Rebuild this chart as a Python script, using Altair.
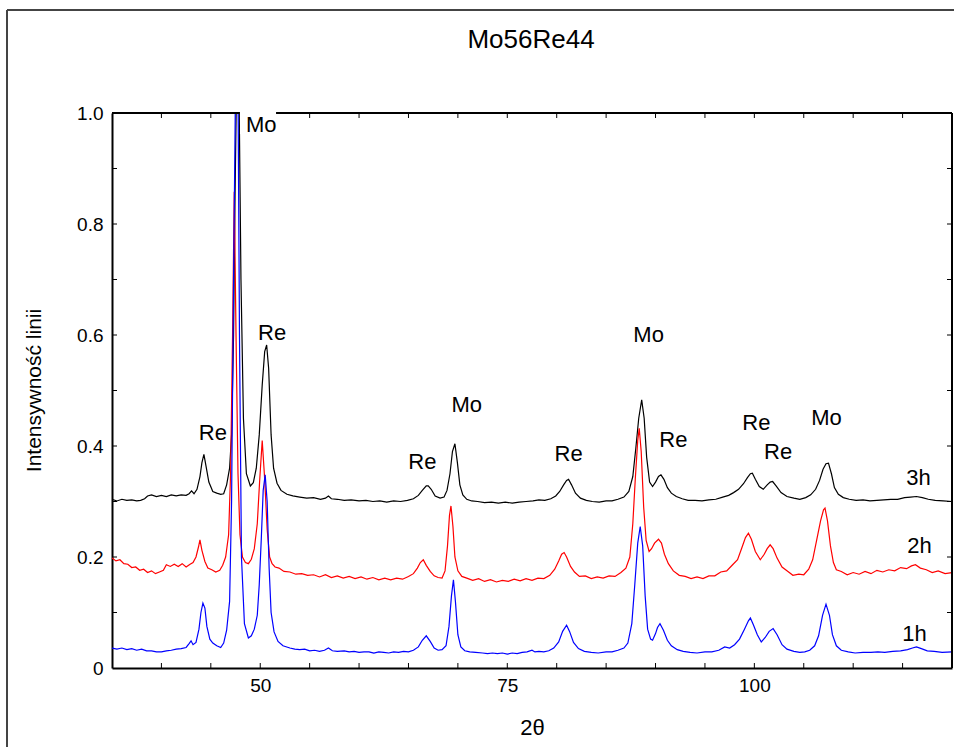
import altair as alt
import pandas as pd

# ---------------- data ----------------
x_1h = [35.0, 35.5, 36.0, 36.5, 37.0, 37.5, 38.0, 38.5, 39.0, 39.5, 40.0, 40.5, 41.0, 41.5, 42.0, 42.5,
        42.8, 43.0, 43.2, 43.5, 43.8, 44.0, 44.2, 44.4, 44.6, 44.9, 45.2, 45.6, 46.0, 46.3, 46.6, 46.9,
        47.1, 47.3, 47.5, 47.6, 47.75, 47.9, 48.1, 48.4, 48.8, 49.1, 49.4, 49.7, 49.9, 50.1, 50.3, 50.5,
        50.7, 50.9, 51.1, 51.4, 51.8, 52.3, 53.0, 53.5, 54.0, 54.5, 55.0, 55.5, 56.0, 56.5, 56.9, 57.3,
        57.8, 58.5, 59.0, 59.5, 60.0, 60.5, 61.0, 61.5, 62.0, 62.5, 63.0, 63.5, 64.0, 64.5, 65.0, 65.5,
        66.0, 66.4, 66.8, 67.2, 67.6, 68.0, 68.4, 68.8, 69.1, 69.35, 69.55, 69.75, 70.0, 70.3, 70.7, 71.2,
        71.8, 72.5, 73.0, 73.5, 74.0, 74.5, 75.0, 75.5, 76.0, 76.5, 77.0, 77.5, 77.8, 78.2, 78.7, 79.2,
        79.7, 80.2, 80.6, 81.0, 81.3, 81.7, 82.2, 82.8, 83.5, 84.2, 85.0, 85.6, 86.2, 86.8, 87.2, 87.6,
        87.9, 88.2, 88.45, 88.7, 88.95, 89.2, 89.5, 89.7, 90.0, 90.2, 90.45, 90.8, 91.2, 91.6, 92.2, 92.8,
        93.5, 94.2, 95.0, 95.7, 96.4, 97.0, 97.5, 98.0, 98.5, 99.0, 99.4, 99.6, 99.9, 100.3, 100.7, 101.1,
        101.5, 101.9, 102.3, 102.8, 103.3, 104.0, 104.6, 105.1, 105.6, 106.1, 106.5, 106.9, 107.25, 107.6,
        107.9, 108.3, 108.8, 109.5, 110.2, 111.0, 111.8, 112.5, 113.2, 114.0, 114.8, 115.5, 116.0, 116.4,
        116.9, 117.5, 118.2, 119.0, 120.0]
y_1h = [0.036, 0.034, 0.036, 0.033, 0.035, 0.032, 0.034, 0.031, 0.031, 0.029, 0.029, 0.031, 0.032, 0.034, 0.035, 0.037,
        0.044, 0.049, 0.042, 0.046, 0.070, 0.100, 0.117, 0.108, 0.075, 0.052, 0.045, 0.040, 0.037, 0.045, 0.068, 0.120,
        0.300, 0.700, 1.050, 1.100, 1.050, 0.600, 0.200, 0.080, 0.054, 0.058, 0.070, 0.095, 0.150, 0.230, 0.320, 0.348,
        0.300, 0.180, 0.100, 0.065, 0.048, 0.040, 0.036, 0.034, 0.033, 0.034, 0.031, 0.032, 0.030, 0.032, 0.036, 0.031,
        0.030, 0.031, 0.029, 0.030, 0.028, 0.029, 0.029, 0.027, 0.029, 0.028, 0.027, 0.029, 0.028, 0.030, 0.029, 0.032,
        0.038, 0.050, 0.058, 0.048, 0.036, 0.032, 0.033, 0.040, 0.075, 0.130, 0.159, 0.120, 0.060, 0.038, 0.031, 0.029,
        0.028, 0.027, 0.026, 0.027, 0.026, 0.027, 0.025, 0.027, 0.026, 0.028, 0.029, 0.032, 0.029, 0.030, 0.029, 0.031,
        0.036, 0.047, 0.066, 0.077, 0.066, 0.046, 0.035, 0.030, 0.028, 0.027, 0.029, 0.029, 0.032, 0.036, 0.045, 0.080,
        0.150, 0.225, 0.255, 0.220, 0.130, 0.070, 0.052, 0.050, 0.062, 0.073, 0.080, 0.068, 0.050, 0.040, 0.033, 0.030,
        0.028, 0.027, 0.029, 0.029, 0.032, 0.038, 0.036, 0.042, 0.052, 0.070, 0.085, 0.090, 0.078, 0.060, 0.047, 0.055,
        0.066, 0.071, 0.060, 0.042, 0.034, 0.030, 0.028, 0.029, 0.032, 0.040, 0.058, 0.095, 0.115, 0.095,
        0.060, 0.040, 0.032, 0.029, 0.027, 0.028, 0.028, 0.029, 0.028, 0.030, 0.031, 0.033, 0.036, 0.038,
        0.035, 0.031, 0.030, 0.028, 0.029]

x_2h = [35.0, 35.4, 35.8, 36.2, 36.6, 37.0, 37.4, 37.8, 38.2, 38.6, 39.0, 39.4, 39.8, 40.2, 40.5, 40.9,
        41.3, 41.7, 42.1, 42.5, 42.9, 43.2, 43.5, 43.75, 43.9, 44.1, 44.4, 44.7, 45.1, 45.5, 45.9, 46.2,
        46.5, 46.8, 47.0, 47.2, 47.37, 47.55, 47.75, 47.95, 48.2, 48.5, 48.8, 49.1, 49.4, 49.7, 49.95, 50.2,
        50.45, 50.7, 50.95, 51.2, 51.5, 51.9, 52.4, 53.0, 53.6, 54.2, 54.8, 55.4, 56.0, 56.6, 57.2, 57.8,
        58.4, 59.0, 59.6, 60.2, 60.8, 61.4, 62.0, 62.6, 63.2, 63.8, 64.4, 65.0, 65.5, 65.9, 66.2, 66.5,
        66.8, 67.2, 67.6, 68.0, 68.4, 68.7, 68.95, 69.15, 69.3, 69.5, 69.7, 70.0, 70.4, 70.9, 71.5, 72.1,
        72.7, 73.3, 73.9, 74.5, 75.1, 75.7, 76.3, 76.9, 77.5, 78.1, 78.7, 79.3, 79.8, 80.2, 80.5, 80.75,
        81.0, 81.4, 81.8, 82.3, 82.9, 83.5, 84.1, 84.7, 85.3, 85.9, 86.5, 87.0, 87.4, 87.7, 87.95, 88.2,
        88.35, 88.55, 88.8, 89.05, 89.35, 89.6, 89.9, 90.3, 90.6, 90.9, 91.3, 91.8, 92.4, 93.0, 93.6, 94.2,
        94.8, 95.4, 96.0, 96.6, 97.2, 97.8, 98.3, 98.7, 99.1, 99.4, 99.7, 100.1, 100.6, 101.0, 101.3, 101.6,
        101.9, 102.3, 102.8, 103.4, 103.9, 104.5, 105.0, 105.5, 105.9, 106.3, 106.7, 107.0, 107.15, 107.4,
        107.7, 108.0, 108.3, 108.8, 109.4, 110.0, 110.6, 111.2, 111.8, 112.4, 113.0, 113.6, 114.2, 114.8,
        115.4, 115.9, 116.3, 116.8, 117.4, 118.0, 118.6, 119.3, 120.0]
y_2h = [0.198, 0.193, 0.195, 0.188, 0.187, 0.181, 0.182, 0.176, 0.178, 0.172, 0.175, 0.170, 0.173, 0.176, 0.186, 0.183,
        0.187, 0.183, 0.188, 0.182, 0.187, 0.190, 0.200, 0.218, 0.231, 0.212, 0.192, 0.180, 0.177, 0.173, 0.176, 0.185,
        0.200, 0.240, 0.350, 0.600, 0.858, 0.600, 0.350, 0.240, 0.200, 0.190, 0.188, 0.196, 0.215, 0.260, 0.340, 0.410,
        0.340, 0.250, 0.200, 0.188, 0.182, 0.180, 0.174, 0.173, 0.169, 0.170, 0.167, 0.168, 0.164, 0.168, 0.163, 0.166,
        0.162, 0.165, 0.161, 0.164, 0.160, 0.163, 0.159, 0.162, 0.159, 0.162, 0.160, 0.165, 0.170, 0.180, 0.190, 0.195,
        0.185, 0.174, 0.166, 0.163, 0.162, 0.175, 0.220, 0.275, 0.292, 0.255, 0.200, 0.175, 0.165, 0.162, 0.158, 0.161,
        0.156, 0.159, 0.155, 0.158, 0.156, 0.160, 0.157, 0.161, 0.158, 0.162, 0.161, 0.167, 0.178, 0.193, 0.205, 0.208,
        0.200, 0.183, 0.173, 0.165, 0.166, 0.161, 0.164, 0.162, 0.166, 0.165, 0.172, 0.180, 0.200, 0.260, 0.340, 0.410,
        0.432, 0.390, 0.290, 0.230, 0.210, 0.215, 0.225, 0.232, 0.225, 0.205, 0.188, 0.175, 0.167, 0.165, 0.161, 0.164,
        0.161, 0.166, 0.166, 0.173, 0.175, 0.186, 0.195, 0.215, 0.235, 0.243, 0.232, 0.210, 0.195, 0.205, 0.215, 0.222,
        0.215, 0.198, 0.182, 0.174, 0.167, 0.169, 0.168, 0.178, 0.195, 0.230, 0.265, 0.285, 0.288, 0.265,
        0.220, 0.190, 0.177, 0.174, 0.168, 0.172, 0.169, 0.174, 0.170, 0.176, 0.173, 0.177, 0.175, 0.181,
        0.179, 0.184, 0.186, 0.180, 0.177, 0.172, 0.175, 0.170, 0.172]

x_3h = [35.0, 35.5, 36.0, 36.5, 37.0, 37.5, 37.9, 38.3, 38.6, 39.0, 39.5, 40.0, 40.5, 41.0, 41.5, 42.0,
        42.5, 42.8, 43.05, 43.3, 43.6, 43.9, 44.1, 44.3, 44.5, 44.8, 45.2, 45.6, 46.0, 46.3, 46.6, 46.9,
        47.1, 47.3, 47.45, 47.6, 47.72, 47.85, 48.05, 48.3, 48.6, 49.0, 49.3, 49.6, 49.9, 50.2, 50.45, 50.65,
        50.85, 51.1, 51.35, 51.7, 52.1, 52.7, 53.3, 54.0, 54.7, 55.4, 56.1, 56.6, 56.9, 57.2, 57.8, 58.5,
        59.2, 60.0, 60.7, 61.4, 62.1, 62.8, 63.5, 64.2, 64.9, 65.5, 66.0, 66.4, 66.8, 67.0, 67.3, 67.7,
        68.2, 68.6, 68.9, 69.2, 69.45, 69.7, 69.95, 70.2, 70.5, 70.9, 71.4, 72.0, 72.7, 73.4, 74.1, 74.8,
        75.5, 76.2, 76.9, 77.6, 78.2, 78.8, 79.4, 79.9, 80.3, 80.7, 81.0, 81.2, 81.5, 81.9, 82.4, 83.0,
        83.6, 84.3, 85.0, 85.6, 86.2, 86.8, 87.3, 87.7, 88.0, 88.3, 88.6, 88.85, 89.1, 89.4, 89.7, 90.0,
        90.3, 90.55, 90.85, 91.2, 91.6, 92.1, 92.7, 93.3, 94.0, 94.7, 95.4, 96.1, 96.8, 97.4, 97.9, 98.4,
        98.9, 99.3, 99.6, 99.8, 100.1, 100.5, 100.9, 101.3, 101.6, 101.85, 102.2, 102.7, 103.3, 104.0, 104.6, 105.2,
        105.7, 106.2, 106.6, 106.95, 107.25, 107.5, 107.8, 108.1, 108.5, 109.0, 109.6, 110.3, 111.0, 111.7,
        112.4, 113.1, 113.8, 114.5, 115.2, 115.8, 116.4, 117.0, 117.6, 118.3, 119.1, 120.0]
y_3h = [0.304, 0.301, 0.304, 0.302, 0.303, 0.301, 0.302, 0.305, 0.310, 0.312, 0.309, 0.311, 0.309, 0.312, 0.310, 0.312,
        0.311, 0.314, 0.319, 0.314, 0.322, 0.345, 0.370, 0.385, 0.365, 0.335, 0.318, 0.315, 0.313, 0.314, 0.330, 0.360,
        0.420, 0.600, 0.850, 1.050, 1.100, 1.050, 0.700, 0.450, 0.350, 0.328, 0.334, 0.360, 0.420, 0.510, 0.570, 0.582,
        0.540, 0.420, 0.360, 0.333, 0.320, 0.313, 0.310, 0.308, 0.306, 0.307, 0.304, 0.306, 0.310, 0.305, 0.304, 0.302,
        0.303, 0.301, 0.302, 0.300, 0.301, 0.299, 0.301, 0.300, 0.302, 0.305, 0.311, 0.320, 0.328, 0.328, 0.322, 0.310,
        0.306, 0.308, 0.320, 0.350, 0.390, 0.404, 0.370, 0.330, 0.312, 0.304, 0.301, 0.300, 0.298, 0.299, 0.297, 0.299,
        0.297, 0.299, 0.300, 0.301, 0.303, 0.302, 0.305, 0.310, 0.318, 0.330, 0.338, 0.340, 0.330, 0.315, 0.306, 0.302,
        0.300, 0.299, 0.301, 0.301, 0.304, 0.308, 0.318, 0.345, 0.395, 0.450, 0.483, 0.450, 0.380, 0.335, 0.327, 0.335,
        0.345, 0.348, 0.340, 0.325, 0.315, 0.309, 0.305, 0.302, 0.302, 0.301, 0.303, 0.304, 0.308, 0.311, 0.316, 0.322,
        0.332, 0.343, 0.350, 0.351, 0.340, 0.327, 0.322, 0.330, 0.335, 0.336, 0.328, 0.316, 0.309, 0.306, 0.304, 0.307,
        0.312, 0.322, 0.338, 0.358, 0.368, 0.369, 0.350, 0.325, 0.313, 0.307, 0.304, 0.302, 0.303, 0.301,
        0.302, 0.303, 0.304, 0.304, 0.307, 0.308, 0.309, 0.307, 0.304, 0.302, 0.301, 0.300]

label_text = ["Mo", "Re", "Re", "Re", "Mo", "Re", "Mo", "Re", "Re", "Re", "Mo", "3h", "2h", "1h"]
label_x = [50.1, 51.2, 45.2, 66.4, 70.9, 81.2, 89.3, 91.8, 100.2, 102.4, 107.3, 116.6, 116.7, 116.2]
label_y = [0.978, 0.604, 0.423, 0.372, 0.474, 0.386, 0.600, 0.411, 0.441, 0.390, 0.450, 0.342, 0.219, 0.061]

chart_title = ["Mo56Re44"]

x_tick_labels = [50, 75, 100]
y_tick_labels = [0, 0.2, 0.4, 0.6, 0.8, 1.0]
x_minor = [40, 45, 50, 55, 60, 65, 70, 75, 80, 85, 90, 95, 100, 105, 110, 115]
y_minor = [0.1, 0.2, 0.3, 0.4, 0.5, 0.6, 0.7, 0.8, 0.9]

# ---------------- chart ----------------
FONT = "Liberation Sans"
W, H = 840, 555

xs = alt.Scale(domain=[35, 120], nice=False, zero=False)
ys = alt.Scale(domain=[0, 1], nice=False, zero=False)

X = alt.X("x:Q", scale=xs, axis=alt.Axis(
    values=x_tick_labels, title="2θ", ticks=False, tickSize=0, grid=False,
    domain=True, domainColor="black", domainWidth=2,
    labelFont=FONT, labelFontSize=19, labelColor="black", labelPadding=8,
    titleFont=FONT, titleFontSize=22, titleFontWeight="normal", titleColor="black",
    titleX=420, titleY=59, titleBaseline="middle", titleAlign="center"))
Y = alt.Y("y:Q", scale=ys, axis=alt.Axis(
    values=y_tick_labels, title="Intensywność linii", ticks=False, tickSize=0, grid=False,
    domain=True, domainColor="black", domainWidth=2,
    labelExpr="datum.value == 0 ? '0' : format(datum.value, '.1f')",
    labelFont=FONT, labelFontSize=19, labelColor="black", labelPadding=9,
    titleFont=FONT, titleFontSize=21, titleFontWeight="normal", titleColor="black",
    titleX=-78, titleY=277, titleBaseline="middle", titleAlign="center", titleAngle=270))

one = pd.DataFrame({"x": [35.0], "y": [0.0]})

# frame (top and right edge of plot) and outer box lines
top_rule = alt.Chart(one).mark_rule(color="black", strokeWidth=2).encode(
    x=alt.value(0), x2=alt.value(W), y=alt.value(0))
right_rule = alt.Chart(one).mark_rule(color="black", strokeWidth=2).encode(
    x=alt.value(W), y=alt.value(0), y2=alt.value(H))
outer_top = alt.Chart(one).mark_rule(color="#444444", strokeWidth=2).encode(
    x=alt.value(-105), x2=alt.value(W + 2), y=alt.value(-103))
outer_left = alt.Chart(one).mark_rule(color="#444444", strokeWidth=2).encode(
    x=alt.value(-105), y=alt.value(-103), y2=alt.value(H + 79))

# chart title as a text mark (centred over the plot area)
title = alt.Chart(pd.DataFrame({"t": chart_title})).mark_text(
    font=FONT, fontSize=26, color="black", align="center", baseline="middle").encode(
    x=alt.value(W / 2 - 1), y=alt.value(-73), text="t:N")

# inner ticks
xm = pd.DataFrame({"x": x_minor})
ym = pd.DataFrame({"y": y_minor})
tick_b = alt.Chart(xm).mark_rule(color="black", strokeWidth=1).encode(x=X, y=alt.value(H), y2=alt.value(H - 5))
tick_t = alt.Chart(xm).mark_rule(color="black", strokeWidth=1).encode(x=X, y=alt.value(0), y2=alt.value(5))
tick_l = alt.Chart(ym).mark_rule(color="black", strokeWidth=1).encode(y=Y, x=alt.value(0), x2=alt.value(5))
tick_r = alt.Chart(ym).mark_rule(color="black", strokeWidth=1).encode(y=Y, x=alt.value(W), x2=alt.value(W - 5))

def series(xv, yv, color):
    df = pd.DataFrame({"x": xv, "y": yv})
    return alt.Chart(df).mark_line(color=color, strokeWidth=1.2, clip=True).encode(x=X, y=Y, order="x:Q")

l3 = series(x_3h, y_3h, "#000000")
l2 = series(x_2h, y_2h, "#ff0000")
l1 = series(x_1h, y_1h, "#0000ff")

# white patch behind the top "Mo" label (breaks the top frame line)
patch = alt.Chart(pd.DataFrame({"x": [47.95], "x2": [51.6], "y": [0.962], "y2": [1.006]})).mark_rect(
    color="white").encode(x=X, x2="x2:Q", y=Y, y2="y2:Q")

labels = pd.DataFrame({"x": label_x, "y": label_y, "t": label_text})
texts = alt.Chart(labels).mark_text(font=FONT, fontSize=22, color="black", align="center",
                                    baseline="middle").encode(x=X, y=Y, text="t:N")

chart = alt.layer(
    outer_top, outer_left, title, tick_b, tick_t, tick_l, tick_r, l3, l2, l1, top_rule, right_rule, patch, texts
).properties(
    width=W, height=H,
    padding={"left": 112, "top": 113, "right": 2, "bottom": 79},
    autosize=alt.AutoSizeParams(type="none"),
    background="white",
).configure_view(stroke=None)

chart.save("out.html", embed_options={"renderer": "svg", "actions": False})
